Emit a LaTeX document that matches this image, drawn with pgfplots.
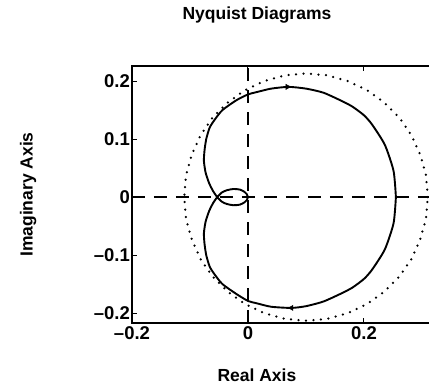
\documentclass[border=0pt]{standalone}
\usepackage{fontspec}
\setmainfont{Liberation Sans}
\usepackage{pgfplots}
\pgfplotsset{compat=1.18}

\begin{document}
\begin{tikzpicture}
  \useasboundingbox (-132pt,-65pt) rectangle (297pt,323pt);
  \begin{axis}[
      at={(0,0)}, anchor=south west,
      scale only axis,
      width=310pt, height=257pt,
      xmin=-0.2, xmax=0.3345,
      ymin=-0.217, ymax=0.226,
      xtick={-0.2,0,0.2},
      xticklabels={\textendash0.2,0,0.2},
      ytick={-0.2,-0.1,0,0.1,0.2},
      yticklabels={\textendash0.2,\textendash0.1,0,0.1,0.2},
      tick align=inside,
      major tick length=5pt,
      tick style={line width=1pt, black},
      axis line style={line width=1.6pt},
      every tick label/.append style={font=\fontsize{18.5}{21}\selectfont\bfseries},
      yticklabel style={inner sep=2pt},
      title={Nyquist Diagrams},
      xlabel={Real Axis},
      ylabel={Imaginary Axis},
      title style={at={(axis description cs:0.403,1.175)}, anchor=center,
                   font=\fontsize{17.5}{20}\selectfont\bfseries},
      xlabel style={at={(axis description cs:0.403,-0.202)}, anchor=center,
                    font=\fontsize{17.5}{20}\selectfont\bfseries},
      ylabel style={at={(axis description cs:-0.335,0.5)}, anchor=center, rotate=0,
                    font=\fontsize{17.5}{20}\selectfont\bfseries},
      clip=false,
    ]
    % dashed real and imaginary axes
    \addplot[black, line width=1.6pt, dash pattern=on 13pt off 9pt]
      coordinates {(-0.2,0) (0.3345,0)};
    \addplot[black, line width=1.6pt, dash pattern=on 13pt off 9pt]
      coordinates {(0,-0.217) (0,0.226)};

    % dotted circle
    \addplot[black, line width=2.5pt, line cap=round, dash pattern=on 0pt off 7.5pt]
      coordinates {
        (0.310,0) (0.307,0.037) (0.297,0.073) (0.282,0.1065) (0.261,0.137)
        (0.235,0.163) (0.205,0.1845) (0.172,0.200) (0.1365,0.210) (0.100,0.213)
        (0.0635,0.210) (0.028,0.200) (-0.005,0.1845) (-0.035,0.163) (-0.061,0.137)
        (-0.082,0.1065) (-0.097,0.073) (-0.107,0.037) (-0.110,0)
        (-0.107,-0.037) (-0.097,-0.073) (-0.082,-0.1065) (-0.061,-0.137) (-0.035,-0.163)
        (-0.005,-0.1845) (0.028,-0.200) (0.0635,-0.210) (0.100,-0.213) (0.1365,-0.210)
        (0.172,-0.200) (0.205,-0.1845) (0.235,-0.163) (0.261,-0.137) (0.282,-0.1065)
        (0.297,-0.073) (0.307,-0.037) (0.310,0)
      };

    % Nyquist curve
    \addplot[black, line width=1.9pt, smooth, tension=0.4]
      coordinates {
        (0.255,0) (0.251,0.045) (0.236,0.090) (0.214,0.125) (0.200,0.141)
        (0.180,0.156) (0.161,0.166) (0.130,0.180) (0.100,0.187) (0.070,0.190)
        (0.040,0.187) (0.015,0.181) (0.000,0.177) (-0.020,0.167) (-0.044,0.150)
        (-0.057,0.134) (-0.066,0.120) (-0.072,0.100) (-0.075,0.080) (-0.076,0.062)
        (-0.073,0.042) (-0.067,0.024) (-0.060,0.010) (-0.053,0)
        (-0.045,-0.008) (-0.036,-0.012) (-0.025,-0.014) (-0.014,-0.013)
        (-0.006,-0.009) (-0.002,-0.005) (0,0)
        (-0.002,0.005) (-0.006,0.009) (-0.014,0.013) (-0.025,0.014)
        (-0.036,0.012) (-0.045,0.008) (-0.053,0)
        (-0.060,-0.010) (-0.067,-0.024) (-0.073,-0.042) (-0.076,-0.062)
        (-0.075,-0.080) (-0.072,-0.100) (-0.066,-0.120) (-0.057,-0.134)
        (-0.044,-0.150) (-0.020,-0.167) (0.000,-0.179) (0.015,-0.183)
        (0.040,-0.189) (0.075,-0.191) (0.100,-0.188) (0.130,-0.180)
        (0.161,-0.166) (0.180,-0.156) (0.200,-0.141) (0.214,-0.125)
        (0.236,-0.090) (0.251,-0.045) (0.255,0)
      };

    % direction arrows
    \addplot[only marks, mark=triangle*, mark size=3pt, black, mark options={rotate=-90}]
      coordinates {(0.068,0.190)};
    \addplot[only marks, mark=triangle*, mark size=3pt, black, mark options={rotate=90}]
      coordinates {(0.075,-0.191)};
  \end{axis}
\end{tikzpicture}
\end{document}
